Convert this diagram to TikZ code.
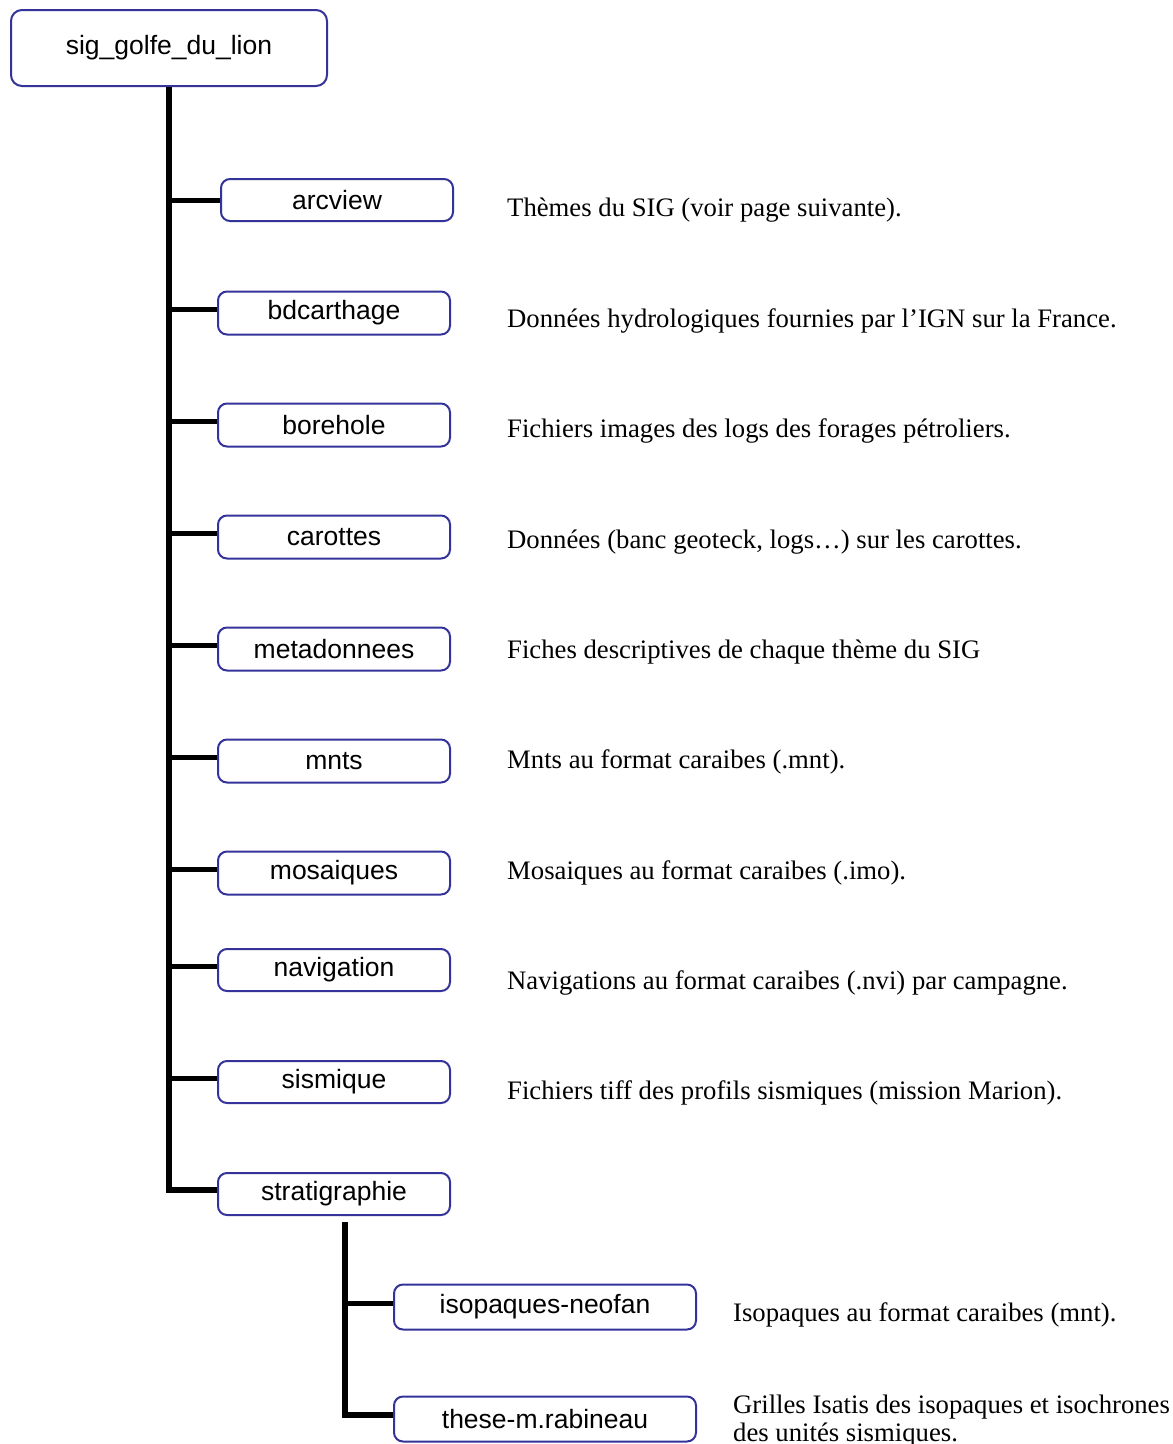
\documentclass[tikz,border=0pt]{standalone}
\usepackage{fontspec}
\setmainfont{Liberation Serif}
\setsansfont{Liberation Sans}
\usetikzlibrary{positioning}
\definecolor{boxblue}{RGB}{51,51,153}

\begin{document}
\begin{tikzpicture}[x=1pt,y=-1pt,
  folder/.style={draw=boxblue,line width=2pt,rounded corners=9pt,fill=white,
    font=\sffamily\fontsize{26.5}{30}\selectfont,inner sep=0pt,
    minimum width=232pt,minimum height=43pt},
  comment/.style={anchor=base west,inner sep=0pt,align=left,
    font=\fontsize{26.7}{28}\selectfont},
  trunk/.style={line width=6pt},
  branch/.style={line width=5pt}]
  \useasboundingbox (0,0) rectangle (1173,1444);
  % root folder
  \node[folder,minimum width=316pt,minimum height=76pt,rounded corners=11pt] at(169,48)(root){sig\_golfe\_du\_lion};
  % sub folders
  \node[folder,minimum height=42pt] at(337,200)(arcview){arcview};
  \node[folder] at(334,313)(bdcarthage){bdcarthage};
  \node[folder] at(334,425)(borehole){borehole};
  \node[folder] at(334,537)(carottes){carottes};
  \node[folder] at(334,649)(metadonnees){metadonnees};
  \node[folder] at(334,761)(mnts){mnts};
  \node[folder] at(334,873)(mosaiques){mosaiques};
  \node[folder,minimum height=42pt] at(334,970)(navigation){navigation};
  \node[folder,minimum height=42pt] at(334,1082)(sismique){sismique};
  \node[folder,minimum height=42pt] at(334,1194)(stratigraphie){stratigraphie};
  % stratigraphie folders
  \node[folder,minimum width=302pt,minimum height=45pt] at(545,1307)(isopaques){isopaques-neofan};
  \node[folder,minimum width=302pt,minimum height=45pt] at(545,1419)(these){these-m.rabineau};
  % descriptions
  \node[comment] at(507,216)(d1){Thèmes du SIG (voir page suivante).};
  \node[comment] at(507,327)(d2){Données hydrologiques fournies par l’IGN sur la France.};
  \node[comment] at(507,437)(d3){Fichiers images des logs des forages pétroliers.};
  \node[comment] at(507,548)(d4){Données (banc geoteck, logs…) sur les carottes.};
  \node[comment] at(507,658)(d5){Fiches descriptives de chaque thème du SIG};
  \node[comment] at(507,768)(d6){Mnts au format caraibes (.mnt).};
  \node[comment] at(507,879)(d7){Mosaiques au format caraibes (.imo).};
  \node[comment] at(507,989)(d8){Navigations au format caraibes (.nvi) par campagne.};
  \node[comment] at(507,1099)(d9){Fichiers tiff des profils sismiques (mission Marion).};
  \node[comment] at(733,1321)(d10){Isopaques au format caraibes (mnt).};
  \node[comment] at(733,1441)(d11){Grilles Isatis des isopaques et isochrones\\des unités sismiques.};
  % main tree
  \draw[trunk] (root.south) |- ([yshift=4pt]stratigraphie.west);
  \draw[branch] (arcview.west) -- (arcview.west -| root.south);
  \draw[branch] ([yshift=4pt]bdcarthage.west) -- ([yshift=4pt]bdcarthage.west -| root.south);
  \draw[branch] ([yshift=4pt]borehole.west) -- ([yshift=4pt]borehole.west -| root.south);
  \draw[branch] ([yshift=4pt]carottes.west) -- ([yshift=4pt]carottes.west -| root.south);
  \draw[branch] ([yshift=4pt]metadonnees.west) -- ([yshift=4pt]metadonnees.west -| root.south);
  \draw[branch] ([yshift=4pt]mnts.west) -- ([yshift=4pt]mnts.west -| root.south);
  \draw[branch] ([yshift=4pt]mosaiques.west) -- ([yshift=4pt]mosaiques.west -| root.south);
  \draw[branch] ([yshift=4pt]navigation.west) -- ([yshift=4pt]navigation.west -| root.south);
  \draw[branch] ([yshift=4pt]sismique.west) -- ([yshift=4pt]sismique.west -| root.south);
  % stratigraphie tree
  \coordinate[below right=6pt and 11pt of stratigraphie.south](s0);
  \draw[trunk] (s0) |- ([yshift=4pt]these.west);
  \draw[branch] ([yshift=4pt]isopaques.west) -- ([yshift=4pt]isopaques.west -| s0);
\end{tikzpicture}
\end{document}
